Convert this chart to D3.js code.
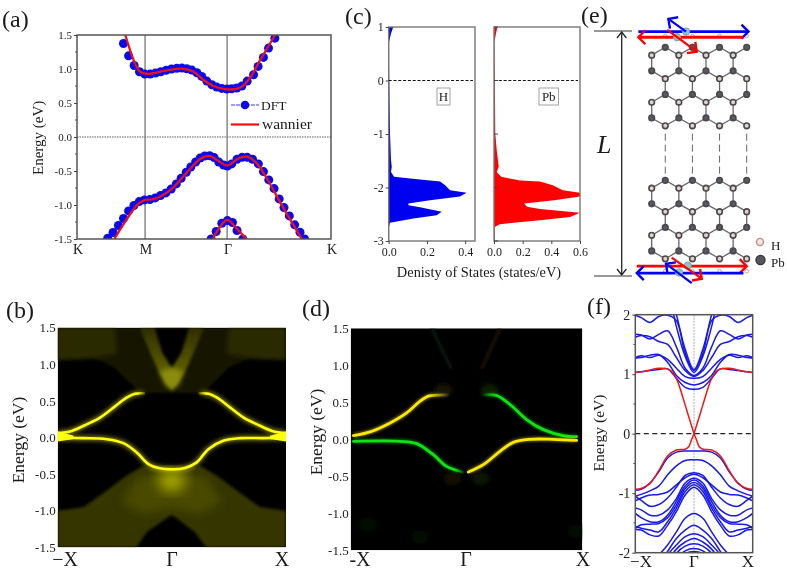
<!DOCTYPE html>
<html>
<head>
	<meta charset="utf-8">
	<title>Band structures</title>
	<script src="https://d3js.org/d3.v7.min.js"></script>
	<style>
	body{margin:0;background:#fff}
	svg{display:block;filter:blur(0.35px)}
	text{font-family:"Liberation Serif",serif}
	</style>
</head>
<body>
	<script>
	// (a) bands, [k, E]
	var aTicks=[0,0.268,0.591,1];
	var aTickNames=["K","M","Γ","K"];
	var dftCond=[[.183,1.375],[.203,1.194],[.225,1.052],[.246,.959],[.267,.925],[.288,.925],[.309,.94],[.33,.96],[.351,.98],[.372,1],[.393,1.01],[.413,1.013],[.432,1.003],[.452,.984],[.472,.945],[.491,.891],[.511,.822],[.531,.768],[.55,.734],[.57,.715],[.59,.705],[.609,.71],[.629,.72],[.649,.749],[.67,.822],[.695,.915],[.713,1.038],[.734,1.17],[.754,1.307],[.779,1.454]];
	var dftVal=[[.121,-1.488],[.142,-1.405],[.163,-1.302],[.183,-1.199],[.203,-1.087],[.224,-1.008],[.245,-.95],[.266,-.925],[.287,-.92],[.308,-.896],[.329,-.861],[.35,-.822],[.371,-.764],[.391,-.69],[.41,-.607],[.43,-.519],[.448,-.441],[.467,-.367],[.485,-.308],[.503,-.279],[.522,-.274],[.54,-.303],[.558,-.367],[.577,-.411],[.592,-.426],[.609,-.396],[.63,-.328],[.65,-.299],[.67,-.299],[.691,-.328],[.714,-.396],[.734,-.509],[.755,-.631],[.776,-.759],[.796,-.91],[.815,-1.038],[.836,-1.16],[.857,-1.292],[.878,-1.4],[.896,-1.5]];
	var dftLow=[[.528,-1.5],[.548,-1.39],[.57,-1.268],[.592,-1.229],[.612,-1.258],[.63,-1.375],[.653,-1.5]];
	var wanCond=[[.19,1.5],[.223,1.13],[.243,.98],[.26,.94],[.288,.93],[.354,.98],[.413,1.005],[.459,.96],[.498,.84],[.537,.75],[.59,.70],[.642,.725],[.675,.84],[.721,1.13],[.78,1.5]];
	var wanVal=[[.147,-1.5],[.242,-.98],[.269,-.925],[.301,-.915],[.367,-.78],[.433,-.519],[.485,-.323],[.522,-.279],[.551,-.338],[.592,-.42],[.636,-.314],[.669,-.289],[.708,-.387],[.747,-.607],[.813,-1.047],[.885,-1.5]]
	var wanLow=[[.535,-1.5],[.564,-1.317],[.592,-1.22],[.622,-1.317],[.666,-1.5]];

	// (c) density of states, [E, dos]
	var dosH=[[1,.024],[.88,.012],[.72,.002],[.25,.002],[-.99,.007],[-1.49,.012],[-1.61,.016],[-1.71,.012],[-1.8,.028],[-1.83,.112],[-1.89,.269],[-1.96,.295],[-2.05,.321],[-2.1,.408],[-2.17,.373],[-2.24,.216],[-2.3,.103],[-2.33,.103],[-2.37,.164],[-2.455,.277],[-2.52,.251],[-2.58,.129],[-2.66,.007],[-2.74,.002],[-3,.002]];
	var dosPb=[[1,.024],[.88,.014],[.72,.003],[.25,.005],[-.99,.009],[-1.3,.019],[-1.61,.033],[-1.71,.019],[-1.8,.05],[-1.87,.18],[-1.89,.32],[-1.96,.41],[-2.05,.48],[-2.1,.6],[-2.17,.6],[-2.24,.42],[-2.3,.21],[-2.36,.23],[-2.4,.32],[-2.47,.6],[-2.55,.53],[-2.61,.32],[-2.685,.04],[-2.74,.005],[-3,.005]];
	var dosTicksH=[0,.2,.4];
	var dosTicksPb=[0,.2,.4,.6];

	// (b) spectral weight, k from -1 to 1
	var bUpLeft=[[-1,.06],[-.877,.09],[-.746,.18],[-.629,.272],[-.512,.408],[-.396,.544],[-.323,.598],[-.235,.603]];
	var bUpRight=[[.235,.603],[.323,.598],[.396,.544],[.512,.408],[.629,.272],[.746,.18],[.877,.09],[1,.06]];
	var bLow=[[-1,-.009],[-.775,-.009],[-.57,-.023],[-.425,-.077],[-.308,-.204],[-.206,-.363],[-.118,-.417],[0,-.435],[.115,-.417],[.218,-.34],[.32,-.159],[.45,-.045],[.6,-.009],[.8,-.009],[1,-.005]];
	var bEdgeLeft=[[-1,.085],[-.86,.025],[-.86,-.02],[-1,-.055]];
	var bEdgeRight=[[1,.085],[.86,.025],[.86,-.02],[1,-.055]];
	var bFlatTop=[[-.26,.605],[.26,.605]];
	var bTopDim=[[-1,1.5],[1,1.5],[1,1.065],[.685,1.088],[.51,.975],[.39,.793],[.275,.612],[-.275,.612],[-.396,.793],[-.512,.975],[-.688,1.088],[-1,1.065]];
	var bCornerLeft=[[-1,1.5],[-.5,1.5],[-.48,1.15],[-.688,1.088],[-1,1.065]];
	var bCornerRight=[[1,1.5],[.5,1.5],[.48,1.15],[.688,1.088],[1,1.065]];
	var bVArm=[[-.28,1.5],[-.19,1.16],[-.11,.88],[0,.64],[.11,.88],[.19,1.16],[.28,1.5]];
	var bVCore=[[-.104,.9],[0,.95],[.10,.9],[.06,.72],[0,.66],[-.06,.72]];
	var bVHole=[[-.15,1.5],[-.085,1.16],[0,.95],[.085,1.16],[.15,1.5]];
	var bBotDim=[[-1,-1],[-.77,-.95],[-.57,-.725],[-.396,-.52],[-.25,-.385],[0,-.45],[.25,-.385],[.39,-.52],[.57,-.725],[.77,-.95],[1,-1],[1,-1.5],[.3,-1.5],[.2,-1.29],[0,-1.055],[-.22,-1.29],[-.31,-1.5],[-1,-1.5]];
	var bBotMid=[[-.3,-.54],[0,-.47],[.3,-.54],[.44,-.88],[.25,-1.04],[0,-.97],[-.25,-1.04],[-.44,-.88]];
	var bBotHot=[[-.12,-.5],[0,-.46],[.12,-.5],[.1,-.68],[0,-.74],[-.1,-.68]];

	// (d) spin resolved weight
	var dUpYellow=[[-.977,.05],[-.819,.108],[-.66,.221],[-.517,.357],[-.401,.515],[-.33,.583],[-.258,.596],[-.157,.6]];
	var dLowGreen=[[-.977,-.027],[-.574,-.027],[-.43,-.059],[-.286,-.208],[-.171,-.366],[-.027,-.443]];
	var dUpGreen=[[.145,.6],[.26,.592],[.376,.47],[.519,.267],[.663,.131],[.836,.05],[.951,.036]];
	var dLowYellow=[[.016,-.443],[.145,-.343],[.289,-.163],[.404,-.041],[.548,0],[.75,0],[.951,-.014]];
	var dGhostLeft=[[-.3,1.5],[-.13,.95]];
	var dGhostRight=[[.29,1.5],[.13,.95]];
	var dBlobs=[[-.2,.66,"#121500"],[.2,.66,"#081a06"],[-.12,-.53,"#141100"],[.12,-.53,"#081506"],[-.85,-1.15,"#030903"],[-.4,-1.32,"#030903"],[.95,-1.25,"#030903"]];

	// (f) slab bands, E at kGrid, both sides of Γ are the same
	var kGrid=[0,.15,.3,.45,.6,.75,.9,1];
	var blueBands=[
		[.745,.78,.93,1.09,1.08,1.06,1.04,1.03],
		[.82,.86,.98,1.2,1.33,1.32,1.28,1.27],
		[.93,.96,1.1,1.25,1.32,1.28,1.31,1.28],
		[.96,1.06,1.28,1.5,1.55,1.63,1.65,1.62],
		[.98,1.1,1.46,1.73,1.67,1.59,1.66,1.67],
		[1.03,1.3,1.8,2.4,2.6,2.6,2.6,2.6],
		[1.06,1.35,1.9,1.99,1.97,1.87,1.95,1.99],
		[1.08,1.42,2,2.5,2.7,2.7,2.7,2.7],
		[-.29,-.29,-.31,-.41,-.64,-.83,-.935,-.95],
		[-.44,-.45,-.54,-.69,-.88,-.96,-1.02,-1.05],
		[-.655,-.7,-.9,-1.08,-1.19,-1.22,-1.12,-1.05],
		[-.68,-.74,-.86,-.98,-1.02,-1.03,-1.08,-1.13],
		[-.75,-.83,-1.09,-1.28,-1.37,-1.37,-1.28,-1.25],
		[-.78,-.88,-1.14,-1.37,-1.48,-1.48,-1.41,-1.34],
		[-.82,-.92,-1.2,-1.41,-1.51,-1.52,-1.53,-1.59],
		[-.86,-.97,-1.25,-1.48,-1.65,-1.62,-1.59,-1.56],
		[-.9,-1.03,-1.31,-1.54,-1.72,-1.7,-1.62,-1.61],
		[-1.34,-1.42,-1.65,-1.87,-2.04,-2.2,-2.4,-2.5],
		[-1.54,-1.62,-1.76,-1.98,-2.2,-2.4,-2.5,-2.6],
		[-1.68,-1.73,-1.87,-2.04,-2.3,-2.5,-2.6,-2.7],
		[-1.76,-1.82,-1.94,-2.15,-2.4,-2.6,-2.7,-2.8],
		[-1.85,-1.89,-2.01,-2.25,-2.5,-2.7,-2.8,-2.9],
		[-1.93,-1.97,-2.1,-2.35,-2.6,-2.8,-2.9,-3],
		[-1.98,-2.02,-2.2,-2.45,-2.7,-2.9,-3,-3.1]
	];
	var redCond=[[0,0],[.05,.16],[.1,.32],[.15,.48],[.3,.93],[.38,1.05],[.45,1.09],[.6,1.1],[.75,1.07],[.9,1.04],[1,1.03]];
	var redVal=[[0,0],[.045,-.11],[.09,-.22],[.15,-.26],[.3,-.275],[.45,-.375],[.6,-.62],[.75,-.835],[.9,-.92],[1,-.935]];

	// (e) lattice, col/row in units of the column step and bond length
	var rowsDark=[0,1.5,3,4.5,8.47,9.97,11.47,12.97];
	var rowsPink=[.5,2,3.5,5,8.97,10.47,11.97,13.47];
	var blockSplit=6.5;
	var evenCols=[0,2,4,6];
	var oddCols=[1,3,5,7];
	var edgeRows=[-.72,14.26];
	var edgeAtoms=[[2.53,-1],[1.87,-.64],[2.65,13.91],[2.01,14.34]];
	var longArrows=[[-.98,-1,7.13,-1,"#0000ff"],[6.76,-.64,-.98,-.64,"#ff0000"],[-1.1,13.94,7,13.94,"#ff0000"],[6.76,14.38,-1.1,14.38,"#0000ff"]];
	var shortArrows=[[2.53,-1,1.23,-1.81,"#0000ff"],[1.15,-1.11,3.32,.28,"#ff0000"],[1.47,13.4,3.69,14.74,"#ff0000"],[2.95,15.02,1.06,13.79,"#0000ff"]];

	var svg=d3.select("body").append("svg").attr("width",787).attr("height",572);
	var defs=svg.append("defs");
	[["soft",2.5],["soft2",4.5],["soft3",7],["glow",2.2],["sharp",.7],["ghost",1.5]].forEach(function(f){
		defs.append("filter").attr("id",f[0]).attr("x","-30%").attr("y","-30%").attr("width","160%").attr("height","160%")
			.append("feGaussianBlur").attr("stdDeviation",f[1]);
	});
	["#0000ff","#ff0000"].forEach(function(c,i){
		defs.append("marker").attr("id","head"+i).attr("markerUnits","userSpaceOnUse").attr("orient","auto")
			.attr("markerWidth",24).attr("markerHeight",24).attr("refX",12).attr("refY",12)
			.append("path").attr("d","M5,5L12,12L5,19").attr("fill","none").attr("stroke",c).attr("stroke-width",2.4);
	});

	function fmt1(d){return d.toFixed(1)}
	function panel(id,x0,x1,y0,y1,xDom,yDom){
		var x=d3.scaleLinear().domain(xDom).range([x0,x1]);
		var y=d3.scaleLinear().domain(yDom).range([y1,y0]);
		defs.append("clipPath").attr("id",id).append("rect").attr("x",x0).attr("y",y0).attr("width",x1-x0).attr("height",y1-y0);
		var g=svg.append("g");
		var inner=g.append("g").attr("clip-path","url(#"+id+")");
		var line=d3.line().x(function(d){return x(d[0])}).y(function(d){return y(d[1])});
		return {x:x,y:y,g:g,inner:inner,line:line,x0:x0,x1:x1,y0:y0,y1:y1};
	}
	function frame(p,color,w){
		p.g.append("rect").attr("x",p.x0).attr("y",p.y0).attr("width",p.x1-p.x0).attr("height",p.y1-p.y0)
			.attr("fill","none").attr("stroke",color).attr("stroke-width",w);
	}
	function yAxis(p,ticks,format,size,tick,color){
		var a=p.g.append("g").attr("transform","translate("+p.x0+",0)")
			.call(d3.axisLeft(p.y).tickValues(ticks).tickFormat(format).tickSize(tick).tickPadding(2));
		a.select(".domain").remove();
		a.selectAll("line").attr("stroke",color);
		a.selectAll("text").attr("font-size",size).attr("fill","#222").style("font-family","Liberation Serif");
	}
	function minorY(p,ticks,len,color){
		p.g.append("g").selectAll("line").data(ticks).enter().append("line")
			.attr("x1",p.x0-len).attr("x2",p.x0).attr("y1",p.y).attr("y2",p.y).attr("stroke",color);
	}
	function label(t,x,y,size,opts){
		opts=opts||{};
		var n=svg.append("text").text(t).attr("x",x).attr("y",y).attr("font-size",size)
			.attr("fill",opts.fill||"#1a1a1a").attr("text-anchor",opts.anchor||"start");
		if(opts.italic)n.attr("font-style","italic");
		if(opts.rotate)n.attr("transform","rotate(-90,"+x+","+y+")");
		return n;
	}
	function fadeGrad(id,color,x1,x2){
		var g=defs.append("linearGradient").attr("id",id).attr("gradientUnits","userSpaceOnUse")
			.attr("x1",x1).attr("x2",x2).attr("y1",0).attr("y2",0);
		g.append("stop").attr("offset",0).attr("stop-color",color);
		g.append("stop").attr("offset",1).attr("stop-color",color).attr("stop-opacity",0);
		return "url(#"+id+")";
	}

	// panel letters
	label("(a)",2,27,24);label("(c)",345,24,24);label("(e)",581,23,24);
	label("(b)",6,318,24);label("(d)",302,316,24);label("(f)",587,314,24);

	// (a)
	var pa=panel("clipA",77,331,35,239,[0,1],[-1.5,1.5]);
	pa.inner.append("line").attr("x1",pa.x0).attr("x2",pa.x1).attr("y1",pa.y(0)).attr("y2",pa.y(0))
		.attr("stroke","#333").attr("stroke-dasharray","1.5,1").attr("stroke-width",.8);
	pa.inner.selectAll(".kline").data(aTicks.slice(1,3)).enter().append("line")
		.attr("x1",pa.x).attr("x2",pa.x).attr("y1",pa.y0).attr("y2",pa.y1).attr("stroke","#777").attr("stroke-width",1.3);
	[dftCond,dftVal,dftLow].forEach(function(b){
		pa.inner.append("g").selectAll("circle").data(b).enter().append("circle")
			.attr("cx",function(d){return pa.x(d[0])}).attr("cy",function(d){return pa.y(d[1])}).attr("r",4.5).attr("fill","#0a0af0");
	});
	[wanCond,wanVal,wanLow].forEach(function(b){
		pa.inner.append("path").attr("d",pa.line.curve(d3.curveCatmullRom)(b)).attr("fill","none").attr("stroke","#f01010").attr("stroke-width",2.3);
	});
	frame(pa,"#555",1.5);
	yAxis(pa,[-1.5,-1,-.5,0,.5,1,1.5],fmt1,11,3,"#444");
	minorY(pa,[-1.25,-.75,-.25,.25,.75,1.25],2,"#555");
	aTicks.forEach(function(t,i){label(aTickNames[i],pa.x(t)+1,254,14,{anchor:"middle"})});
	label("Energy (eV)",43,175,15,{rotate:true});
	svg.append("line").attr("x1",231).attr("x2",259).attr("y1",105).attr("y2",105).attr("stroke","#3a3af0").attr("stroke-width",1).attr("stroke-dasharray","4,1");
	svg.append("circle").attr("cx",245).attr("cy",105).attr("r",4.3).attr("fill","#0a0af0");
	label("DFT",261,110,13.5);
	svg.append("line").attr("x1",231).attr("x2",259).attr("y1",124.5).attr("y2",124.5).attr("stroke","#f01010").attr("stroke-width",2.2);
	label("wannier",262,129,15.5);

	// (c)
	function dosPanel(id,x0,x1,xMax,data,color,ticks){
		var p=panel(id,x0,x1,27,241,[0,xMax],[-3,1]);
		p.inner.append("path").datum(data).attr("fill",color)
			.attr("d",d3.area().x0(p.x(0)).x1(function(d){return p.x(d[1])}).y(function(d){return p.y(d[0])}));
		frame(p,"#777",1.4);
		p.g.append("line").attr("x1",p.x0).attr("x2",p.x1-2).attr("y1",p.y(0)).attr("y2",p.y(0))
			.attr("stroke","#111").attr("stroke-width",1).attr("stroke-dasharray","3,1.8");
		var a=p.g.append("g").attr("transform","translate(0,241)").call(d3.axisBottom(p.x).tickValues(ticks).tickFormat(fmt1).tickSize(3).tickPadding(3));
		a.select(".domain").remove();
		a.selectAll("line").attr("stroke","#444");
		a.selectAll("text").attr("font-size",12).attr("fill","#222").style("font-family","Liberation Serif");
		return p;
	}
	var pcH=dosPanel("clipCH",388.7,475,.4515,dosH,"#0000f0",dosTicksH);
	yAxis(pcH,[-3,-2,-1,0,1],function(d){return String(d)},12,3,"#444");
	var pcPb=dosPanel("clipCPb",494,580,.6,dosPb,"#ff0000",dosTicksPb);
	[-3,-2,-1,0,1].forEach(function(t){
		pcPb.g.append("line").attr("x1",494).attr("x2",498).attr("y1",pcPb.y(t)).attr("y2",pcPb.y(t)).attr("stroke","#444");
	});
	[["H",437,88,13],["Pb",539,88,19.5]].forEach(function(b){
		svg.append("rect").attr("x",b[1]).attr("y",b[2]).attr("width",b[3]).attr("height",17).attr("fill","#fff").attr("stroke","#999").attr("stroke-width",.9);
		label(b[0],b[1]+b[3]/2,b[2]+13,13,{anchor:"middle"});
	});
	label("Denisty of States (states/eV)",479,277,14.4,{anchor:"middle"});

	// (b)
	var pb=panel("clipB",57.7,286,327.7,547.3,[-1.0,1.0],[-1.5,1.5]);
	pb.inner.append("rect").attr("x",pb.x0).attr("y",pb.y0).attr("width",228.3).attr("height",219.6).attr("fill","#000");
	function blob(p,pts,fill,filter){
		p.inner.append("path").attr("d",p.line.curve(d3.curveLinearClosed)(pts)).attr("fill",fill).attr("filter","url(#"+filter+")");
	}
	var armGrad=defs.append("linearGradient").attr("id","armGrad").attr("gradientUnits","userSpaceOnUse")
		.attr("x1",0).attr("x2",0).attr("y1",pb.y(1.5)).attr("y2",pb.y(.7));
	armGrad.append("stop").attr("offset",0).attr("stop-color","#2e2e00");
	armGrad.append("stop").attr("offset",1).attr("stop-color","#6e6e08");
	blob(pb,bTopDim,"#141400","ghost");
	blob(pb,bCornerLeft,"#2a2a00","soft");
	blob(pb,bCornerRight,"#2a2a00","soft");
	blob(pb,bVArm,"url(#armGrad)","ghost");
	blob(pb,bVHole,"#000","ghost");
	blob(pb,bVCore,"#8c8c10","soft");
	blob(pb,bBotDim,"#343400","ghost");
	blob(pb,bBotMid,"#484800","soft2");
	blob(pb,bBotHot,"#b0b000","soft3");
	pb.inner.append("path").attr("d",pb.line.curve(d3.curveLinear)(bFlatTop)).attr("fill","none").attr("stroke","#3a3a00").attr("stroke-width",1.5).attr("filter","url(#sharp)");
	[[bUpLeft,fadeGrad("fadeBL","#ffff10",pb.x(-.3),pb.x(-.22))],[bUpRight,fadeGrad("fadeBR","#ffff10",pb.x(.3),pb.x(.22))],[bLow,"#ffff10"]].forEach(function(b){
		var d=pb.line.curve(d3.curveCatmullRom)(b[0]);
		pb.inner.append("path").attr("d",d).attr("fill","none").attr("stroke",b[1]).attr("stroke-width",5).attr("opacity",.5).attr("filter","url(#glow)");
		pb.inner.append("path").attr("d",d).attr("fill","none").attr("stroke",b[1]).attr("stroke-width",2.6).attr("filter","url(#sharp)");
	});
	blob(pb,bEdgeLeft,"#ffff10","sharp");
	blob(pb,bEdgeRight,"#ffff10","sharp");
	yAxis(pb,[-1.5,-1,-.5,0,.5,1,1.5],fmt1,13,0,"#000");
	label("−X",65,566,20,{anchor:"middle"});label("Γ",172,566,20,{anchor:"middle"});label("X",282,566,20,{anchor:"middle"});
	label("Energy (eV)",24,440,17.5,{anchor:"middle",rotate:true});

	// (d)
	var pd=panel("clipD",350.7,582.3,328.3,550.3,[-1.0,1.0],[-1.5,1.5]);
	pd.inner.append("rect").attr("x",pd.x0).attr("y",pd.y0).attr("width",231.6).attr("height",222).attr("fill","#000");
	pd.inner.selectAll("ellipse").data(dBlobs).enter().append("ellipse")
		.attr("cx",function(d){return pd.x(d[0])}).attr("cy",function(d){return pd.y(d[1])}).attr("rx",9).attr("ry",7)
		.attr("fill",function(d){return d[2]}).attr("filter","url(#soft)");
	pd.inner.append("path").attr("d",pd.line.curve(d3.curveLinear)(dGhostLeft)).attr("stroke","#071c0a").attr("stroke-width",3).attr("filter","url(#ghost)");
	pd.inner.append("path").attr("d",pd.line(dGhostRight)).attr("stroke","#1c1600").attr("stroke-width",3).attr("filter","url(#ghost)");
	[[dUpYellow,fadeGrad("fadeY","#ffe800",pd.x(-.33),pd.x(-.14))],[dLowGreen,fadeGrad("fadeG1","#10e610",pd.x(-.1),pd.x(-.01))],
	 [dUpGreen,fadeGrad("fadeG2","#10e610",pd.x(.26),pd.x(.13))],[dLowYellow,"#ffe800"]].forEach(function(b){
		var d=pd.line.curve(d3.curveCatmullRom)(b[0]);
		pd.inner.append("path").attr("d",d).attr("fill","none").attr("stroke",b[1]).attr("stroke-width",4.4).attr("opacity",.45).attr("filter","url(#ghost)");
		pd.inner.append("path").attr("d",d).attr("fill","none").attr("stroke",b[1]).attr("stroke-width",2.8).attr("stroke-linecap","round").attr("filter","url(#sharp)");
	});
	yAxis(pd,[-1.5,-1,-.5,0,.5,1,1.5],fmt1,13,0,"#000");
	label("-X",360,566,20,{anchor:"middle"});label("Γ",466,566,20,{anchor:"middle"});label("X",583,566,20,{anchor:"middle"});
	label("Energy (eV)",322,432,17.5,{anchor:"middle",rotate:true});

	// (f)
	var pf=panel("clipF",635.3,752.7,314.7,552.7,[-1,1],[-2,2]);
	pf.inner.append("line").attr("x1",pf.x(0)).attr("x2",pf.x(0)).attr("y1",pf.y0).attr("y2",pf.y1)
		.attr("stroke","#bbb").attr("stroke-width",1.2).attr("stroke-dasharray","2,1");
	blueBands.forEach(function(b){
		var right=b.map(function(e,i){return [kGrid[i],e]});
		var pts=right.slice(1).reverse().map(function(d){return [-d[0],d[1]]}).concat(right);
		pf.inner.append("path").attr("d",pf.line.curve(d3.curveCatmullRom)(pts)).attr("fill","none").attr("stroke","#1818f0").attr("stroke-width",1.5);
	});
	[redCond,redVal].forEach(function(b){
		[1,-1].forEach(function(side){
			var pts=b.map(function(d){return [side*d[0],d[1]]});
			pf.inner.append("path").attr("d",pf.line.curve(d3.curveCatmullRom)(pts)).attr("fill","none").attr("stroke","#f01818").attr("stroke-width",1.5);
		});
	});
	pf.g.append("line").attr("x1",pf.x0).attr("x2",pf.x1).attr("y1",pf.y(0)).attr("y2",pf.y(0))
		.attr("stroke","#222").attr("stroke-width",1.2).attr("stroke-dasharray","5,3.5");
	frame(pf,"#555",1.5);
	yAxis(pf,[-2,-1,0,1,2],function(d){return String(d)},14,3,"#444");
	minorY(pf,[-1.5,-.5,.5,1.5],2,"#555");
	label("−X",641,567,17,{anchor:"middle"});label("Γ",694,567,17,{anchor:"middle"});label("X",748,567,17,{anchor:"middle"});
	label("Energy (eV)",604,433,15.5,{anchor:"middle",rotate:true});

	// (e)
	var latX=d3.scaleLinear().domain([0,7]).range([651.7,746.7]);
	var latY=d3.scaleLinear().domain([0,1]).range([47.3,63]);
	var ge=svg.append("g");
	var atoms=[];
	rowsDark.forEach(function(r,i){(i%2?evenCols:oddCols).forEach(function(c){atoms.push({c:c,r:r,pink:false})})});
	rowsPink.forEach(function(r,i){(i%2?oddCols:evenCols).forEach(function(c){atoms.push({c:c,r:r,pink:true})})});
	var bonds=[];
	atoms.forEach(function(a,i){
		atoms.slice(i+1).forEach(function(b){
			var dist=Math.hypot((a.c-b.c)*.866,a.r-b.r);
			if(dist<1.05&&(a.r<blockSplit)==(b.r<blockSplit))bonds.push([a,b]);
		});
	});
	ge.selectAll(".bond").data(bonds).enter().append("line")
		.attr("x1",function(d){return latX(d[0].c)}).attr("y1",function(d){return latY(d[0].r)})
		.attr("x2",function(d){return latX(d[1].c)}).attr("y2",function(d){return latY(d[1].r)})
		.attr("stroke","#666").attr("stroke-width",1.3);
	ge.selectAll(".gap").data(oddCols).enter().append("line")
		.attr("x1",latX).attr("x2",latX).attr("y1",latY(5.5)).attr("y2",latY(8.1))
		.attr("stroke","#666").attr("stroke-width",1).attr("stroke-dasharray","7,4");
	ge.selectAll(".atom").data(atoms).enter().append("circle")
		.attr("cx",function(d){return latX(d.c)}).attr("cy",function(d){return latY(d.r)}).attr("r",2.8)
		.attr("fill",function(d){return d.pink?"#e8cfc8":"#5a5a5e"}).attr("stroke","#48484e").attr("stroke-width",1.6);
	edgeRows.forEach(function(r){
		ge.append("g").selectAll("circle").data(oddCols).enter().append("circle")
			.attr("cx",latX).attr("cy",latY(r)).attr("r",1.8).attr("fill","#fff").attr("stroke","#c89a94").attr("stroke-width",.9);
	});
	function arrows(list,w){
		ge.append("g").selectAll("line").data(list).enter().append("line")
			.attr("x1",function(d){return latX(d[0])}).attr("y1",function(d){return latY(d[1])})
			.attr("x2",function(d){return latX(d[2])}).attr("y2",function(d){return latY(d[3])})
			.attr("stroke",function(d){return d[4]}).attr("stroke-width",w)
			.attr("marker-end",function(d){return "url(#head"+(d[4]=="#0000ff"?0:1)+")"});
	}
	arrows(longArrows,2.8);
	ge.selectAll(".edge").data(edgeAtoms).enter().append("circle")
		.attr("cx",function(d){return latX(d[0])}).attr("cy",function(d){return latY(d[1])}).attr("r",3.7)
		.attr("fill","#8cc6c0").attr("stroke","#6f9c9c").attr("stroke-width",.8);
	arrows(shortArrows,2.2);
	// L arrow
	svg.append("line").attr("x1",594).attr("x2",632).attr("y1",31).attr("y2",31).attr("stroke","#333").attr("stroke-width",1.2);
	svg.append("line").attr("x1",594).attr("x2",632).attr("y1",276).attr("y2",276).attr("stroke","#333").attr("stroke-width",1.2);
	svg.append("line").attr("x1",621.7).attr("x2",621.7).attr("y1",32).attr("y2",275).attr("stroke","#222").attr("stroke-width",1.3);
	svg.append("path").attr("d","M617,38L621.7,32L626.4,38M617,269L621.7,275L626.4,269").attr("fill","none").attr("stroke","#222").attr("stroke-width",1.3);
	label("L",597,153,26,{italic:true});
	svg.append("circle").attr("cx",760).attr("cy",242).attr("r",3.6).attr("fill","#f3e4e0").attr("stroke","#c08a84").attr("stroke-width",1.4);
	label("H",771,250,13);
	svg.append("circle").attr("cx",760.5).attr("cy",260).attr("r",4.6).attr("fill","#55555a").attr("stroke","#333").attr("stroke-width",1.2);
	label("Pb",771,267,13);
	</script>
</body>
</html>
